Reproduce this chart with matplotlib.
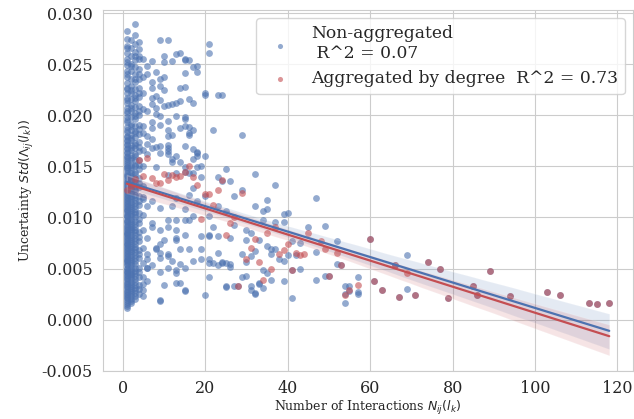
import numpy as np
import matplotlib
matplotlib.use("Agg")
import matplotlib.pyplot as plt
import seaborn as sns
import pandas as pd

# ---------------- data (std values in units of 1e-4) ----------------
SCALE = 1e-4

deg1_std = [11, 15, 19, 22, 25, 28, 30, 33, 36, 38, 41, 44, 46, 48, 51, 54, 57, 59, 62, 64,
            67, 70, 73, 75, 78, 81, 84, 86, 89, 92, 96, 98, 101, 104, 107, 110, 113, 117, 119, 122,
            125, 129, 132, 135, 139, 142, 146, 149, 153, 157, 160, 164, 168, 172, 176, 180, 184, 189,
            193, 198, 202, 207, 212, 217, 222, 227, 232, 238, 243, 249, 255, 261, 268, 275, 283,
            13, 17, 21, 24, 27, 32, 35, 40, 43, 47, 50, 53, 56, 58, 61, 65, 68, 71, 74, 77,
            80, 83, 85, 88, 91, 94, 97, 100, 102, 106, 108, 111, 114, 116, 120, 123, 126, 128, 131, 134,
            137, 141, 144, 148, 151, 155, 159, 163, 167, 171, 175, 179, 186, 195, 204, 215, 226, 240,
            252, 266]
deg2_std = [16, 20, 25, 29, 33, 37, 42, 45, 49, 53, 57, 61, 66, 69, 73, 77, 81, 86, 89, 93,
            97, 101, 105, 109, 113, 118, 121, 125, 129, 133, 137, 141, 146, 151, 156, 161, 166, 171,
            176, 181, 186, 192, 198, 204, 210, 216, 222, 229, 236, 243, 250, 258, 266, 274,
            18, 23, 27, 31, 35, 40, 44, 47, 51, 55, 59, 63, 67, 71, 75, 79, 83, 88, 91, 95,
            99, 103, 107, 111, 115, 120, 124, 128, 132, 136, 140, 144, 149, 158, 168, 178, 190, 207,
            225, 248]
deg3_std = [20, 26, 31, 37, 43, 48, 54, 60, 66, 71, 77, 83, 88, 94, 100, 105, 111, 117, 122, 128,
            134, 139, 145, 151, 156, 162, 168, 173, 179, 185, 190, 196, 202, 208, 214, 220, 226, 233,
            240, 247, 254, 262, 270, 279, 289,
            23, 29, 34, 40, 46, 51, 57, 63, 69, 74, 80, 86, 91, 97, 103, 108, 114, 120, 126, 131,
            137, 143, 150, 160, 171, 183, 199, 217, 236, 258]
deg4_std = [25, 34, 42, 51, 60, 68, 77, 86, 95, 104, 112, 121, 130, 139, 147, 156, 165, 174,
            182, 191, 200, 209, 218, 227, 236, 245, 255, 265,
            30, 47, 64, 81, 99, 116, 134, 151, 169, 187, 204, 222, 240, 258, 272]
deg5_std = [35, 55, 70, 88, 102, 118, 120, 131, 150, 166, 190, 206, 222, 238, 255]

# (degree, std) for the scattered non-aggregated points
scatter_pts = [
    (9, 274), (11, 274), (7, 253), (10, 258), (10, 252), (12, 253), (13, 260), (14, 261), (15, 254),
    (16, 254), (15, 241), (17, 247), (18, 242), (6, 248), (6, 240), (8, 242), (9, 236), (10, 238),
    (7, 233), (7, 227), (9, 229), (10, 225), (14, 227), (15, 228), (7, 217), (8, 219), (9, 215),
    (7, 211), (8, 207), (10, 209), (11, 210), (12, 211), (6, 204), (8, 201), (9, 199), (13, 199),
    (7, 193), (7, 188), (9, 191), (11, 194), (14, 188), (15, 190), (16, 181), (15, 198), (5, 183),
    (6, 180), (7, 177), (11, 180), (12, 181), (6, 172), (7, 168), (8, 169), (9, 170), (11, 168),
    (11, 162), (9, 163), (6, 162), (13, 160), (17, 167), (18, 164), (12, 154), (14, 154), (11, 142),
    (13, 144), (15, 145), (17, 144), (18, 149),
    (21, 270), (21, 261), (20, 222), (20, 220), (23, 220), (24, 220), (22, 186), (29, 181), (20, 160),
    (18, 163), (25, 147), (32, 143), (37, 132), (29, 127), (23, 140), (24, 136), (26, 136), (19, 140),
    (17, 129), (35, 117), (47, 119), (37, 96), (39, 103), (35, 108), (30, 78), (33, 78), (31, 62),
    (36, 69), (29, 42), (31, 33), (33, 36), (34, 31), (32, 26), (27, 33), (25, 33), (20, 24), (9, 19),
    (15, 29), (13, 36), (9, 47), (11, 51), (13, 46), (15, 51), (17, 57), (19, 59), (21, 59), (21, 42),
    (23, 53), (24, 56), (26, 52), (23, 65), (19, 69), (16, 69), (14, 69), (11, 64), (9, 65), (8, 70),
    (6, 59), (6, 51), (10, 78), (13, 78), (19, 82), (21, 82), (13, 88), (9, 88), (7, 95), (11, 98),
    (15, 98), (17, 101), (21, 101), (22, 91), (23, 82), (26, 80), (30, 88), (27, 93), (32, 111),
    (34, 106), (9, 109), (12, 111), (15, 108), (7, 116), (6, 111), (13, 119), (16, 122), (18, 116),
    (20, 121), (23, 111), (25, 106), (27, 121), (16, 144), (15, 149), (19, 150), (17, 157), (15, 170),
    (16, 183), (18, 160), (12, 157), (8, 149), (11, 165), (11, 171), (14, 214), (13, 212), (16, 216),
    (17, 212), (15, 196), (16, 189), (17, 186), (11, 186), (18, 248), (15, 255),
    (40, 104), (39, 96), (45, 91), (49, 92), (52, 77), (34, 98), (31, 85), (32, 67), (29, 64),
    (30, 56), (35, 72), (37, 69), (36, 64), (38, 59), (39, 57), (40, 63), (41, 77), (43, 75), (42, 63),
    (43, 50), (47, 66), (49, 43), (47, 39), (52, 54), (34, 49), (35, 46), (36, 39), (39, 38), (33, 35),
    (31, 29), (32, 25), (41, 21), (25, 32), (30, 43), (21, 55), (22, 55), (24, 55), (25, 55), (26, 54),
    (21, 83), (54, 33), (55, 33), (54, 25), (55, 28), (57, 27), (57, 42), (54, 16), (69, 63), (69, 30),
    (57, 25),
    (7, 91), (9, 74), (11, 91), (13, 98), (13, 80), (15, 83), (16, 98), (6, 80), (8, 69), (6, 64),
    (9, 60), (11, 62), (12, 57), (14, 54), (13, 49), (6, 51), (7, 53), (5, 42), (6, 38), (10, 34),
    (14, 36), (15, 28), (5, 29), (5, 23), (9, 18),
    (28, 33), (41, 49), (50, 43), (53, 53), (60, 79), (61, 38), (63, 29), (66, 53), (67, 22), (71, 24),
    (74, 56), (77, 50), (79, 21), (85, 33), (86, 24), (89, 48), (94, 23), (103, 27), (106, 24),
    (113, 16), (115, 15), (118, 16),
]

# aggregated by degree (mean std per degree)
agg_deg = [1, 2, 3, 4, 5, 6, 7, 8, 9, 10, 11, 12, 13, 14, 15, 16, 17, 18, 19, 20,
           21, 22, 23, 24, 25, 26, 27, 28, 29, 30, 31, 32, 33, 34, 35, 36, 37, 38, 39, 40,
           41, 42, 43, 44, 45, 48, 49, 50, 52, 53, 54, 55, 57, 60, 61, 63, 66, 67, 69, 71,
           74, 77, 79, 85, 86, 89, 94, 103, 106, 113, 115, 118]
agg_std = [127, 131, 138, 156, 141, 158, 139, 134, 134, 143, 137, 142, 140, 141, 145, 150, 140, 132, 99, 123,
           123, 112, 127, 137, 83, 95, 100, 33, 124, 59, 70, 79, 56, 39, 85, 50, 91, 64, 68, 74,
           49, 65, 63, 64, 85, 77, 69, 43, 65, 53, 24, 29, 34, 79, 38, 29, 53, 22, 46, 24,
           56, 50, 21, 33, 24, 48, 23, 27, 24, 16, 15, 16]

labels = ["Non-aggregated\n R^2 = 0.07", "Aggregated by degree  R^2 = 0.73"]
x_ticks = [0, 20, 40, 60, 80, 100, 120]
y_ticks = [-0.005, 0.000, 0.005, 0.010, 0.015, 0.020, 0.025, 0.030]

# ---------------- assemble ----------------
nx = ([1] * len(deg1_std) + [2] * len(deg2_std) + [3] * len(deg3_std) + [4] * len(deg4_std)
      + [5] * len(deg5_std) + [p[0] for p in scatter_pts])
ny = deg1_std + deg2_std + deg3_std + deg4_std + deg5_std + [p[1] for p in scatter_pts]
nonagg = pd.DataFrame({"deg": np.array(nx, float), "std": np.array(ny, float) * SCALE})
agg = pd.DataFrame({"deg": np.array(agg_deg, float), "std": np.array(agg_std, float) * SCALE})

sns.set_style("whitegrid")
plt.rcParams["font.family"] = ["DejaVu Serif"]

fig = plt.figure(figsize=(6.34, 4.19), dpi=100)
ax = fig.add_axes([0.162, 0.1153, 0.837, 0.861])

blue = "#4C72B0"
red = "#C44E52"
sns.regplot(data=nonagg, x="deg", y="std", ax=ax, color=blue, seed=1,
            scatter_kws={"s": 24, "alpha": 0.6, "linewidths": 0}, line_kws={"lw": 1.6},
            label=labels[0])
sns.regplot(data=agg, x="deg", y="std", ax=ax, color=red, seed=1,
            scatter_kws={"s": 24, "alpha": 0.6, "linewidths": 0}, line_kws={"lw": 1.6},
            label=labels[1])

ax.set_xlim(-4.85, 123.85)
ax.set_ylim(-0.005, 0.03032)
ax.set_xticks(x_ticks)
ax.set_yticks(y_ticks)
ax.yaxis.set_major_formatter(matplotlib.ticker.FormatStrFormatter("%.3f"))
ax.tick_params(labelsize=11.5)
ax.set_xlabel(r"Number of Interactions $N_{ij}(l_k)$", fontsize=9, labelpad=1)
ax.set_ylabel(r"Uncertainty $Std(\Lambda_{ij}(l_k))$", fontsize=9)
ax.legend(loc="upper right", fontsize=12.3, markerscale=0.75)

fig.savefig("out.png", dpi=100)
